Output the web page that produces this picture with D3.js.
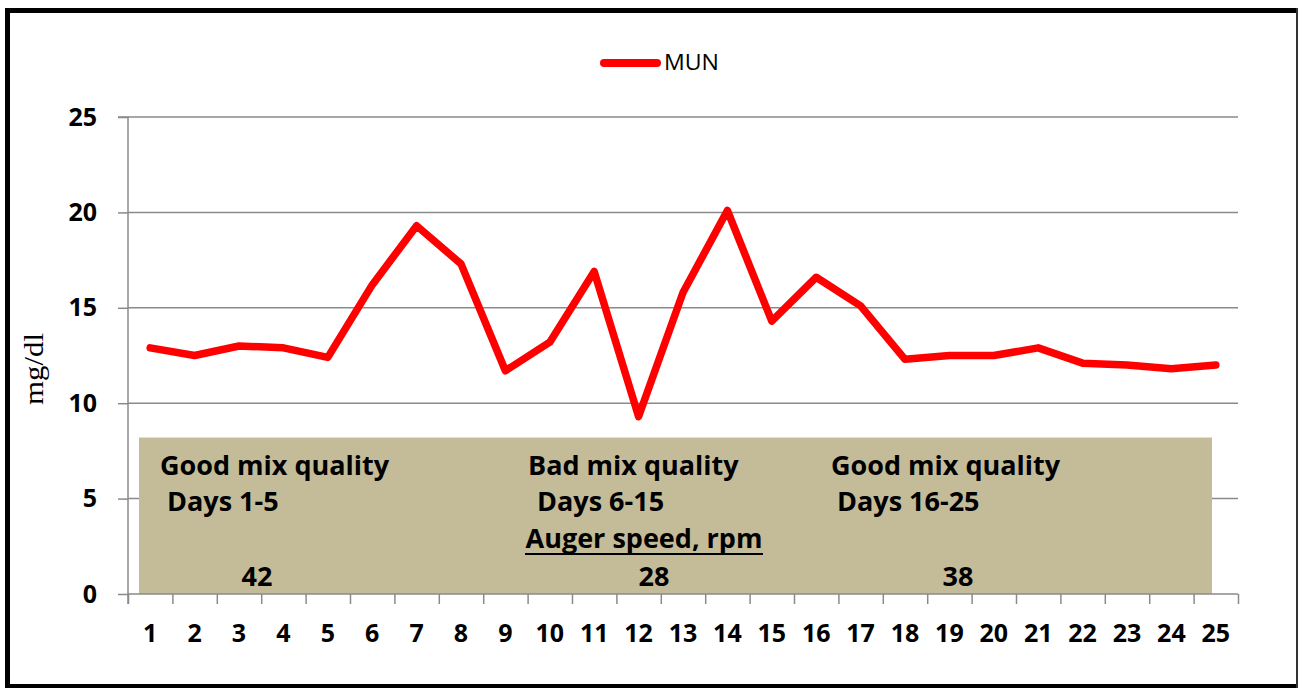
<!DOCTYPE html>
<html>
<head>
<meta charset="utf-8">
<script src="https://cdn.jsdelivr.net/npm/d3@7"></script>
<style>
  html, body { margin: 0; padding: 0; background: #fff; }
  svg { display: block; }
  text { font-family: "Open Sans", "DejaVu Sans", sans-serif; }
</style>
</head>
<body>
<svg id="chart" width="1299" height="688"></svg>
<script>
// Milk urea nitrogen by day
const days = d3.range(1, 26);
const munValues = [12.9, 12.5, 13.0, 12.9, 12.4, 16.2, 19.3, 17.3, 11.7, 13.2,
                   16.9, 9.3, 15.8, 20.1, 14.3, 16.6, 15.1, 12.3, 12.5, 12.5,
                   12.9, 12.1, 12.0, 11.8, 12.0];
const yTicks = [0, 5, 10, 15, 20, 25];
const seriesName = "MUN";
const yLabel = "mg/dl";

// Annotation panel contents
const periodTitles = ["Good mix quality", "Bad mix quality", "Good mix quality"];
const periodDays = ["Days 1-5", "Days 6-15", "Days 16-25"];
const augerTitle = "Auger speed, rpm";
const augerSpeeds = ["42", "28", "38"];

const svg = d3.select("#chart");

const plot = { left: 128, right: 1238, top: 117, bottom: 594 };

const x = d3.scaleBand().domain(days).range([plot.left, plot.right]).padding(0);
const xc = d => x(d) + x.bandwidth() / 2;
const xEdges = d3.scaleLinear().domain([0, days.length]).range([plot.left, plot.right]);
const y = d3.scaleLinear().domain([0, 25]).range([plot.bottom, plot.top]);

const axisColor = "#8a8a8a";

// Gridlines
svg.append("g")
  .selectAll("line")
  .data(yTicks.filter(t => t > 0))
  .join("line")
  .attr("x1", plot.left).attr("x2", plot.right)
  .attr("y1", d => y(d)).attr("y2", d => y(d))
  .attr("stroke", axisColor).attr("stroke-width", 1.5);

// Annotation panel
const panel = svg.append("g");
panel.append("rect")
  .attr("x", 139).attr("y", y(8.2))
  .attr("width", 1212 - 139).attr("height", y(0) - y(8.2))
  .attr("fill", "#c4bc99");

const boldText = (sel) => sel.attr("font-weight", "bold").attr("font-size", 27).attr("fill", "#000");
const titleX = [160, 528, 831];
const daysX = [167, 537, 837];
const speedX = [257, 654, 958];
periodTitles.forEach((t, i) => {
  panel.append("text").call(boldText).attr("x", titleX[i]).attr("y", 475).text(t);
  panel.append("text").call(boldText).attr("x", daysX[i]).attr("y", 511).text(periodDays[i]);
  panel.append("text").call(boldText).attr("x", speedX[i]).attr("y", 586)
    .attr("text-anchor", "middle").text(augerSpeeds[i]);
});
panel.append("text").call(boldText)
  .attr("x", 644).attr("y", 548).attr("text-anchor", "middle").text(augerTitle);
panel.append("line")
  .attr("x1", 525).attr("x2", 763).attr("y1", 554).attr("y2", 554)
  .attr("stroke", "#000").attr("stroke-width", 2);

// Y axis
const yAxis = d3.axisLeft(y).tickValues(yTicks).tickSize(10).tickPadding(21);
const gy = svg.append("g").attr("transform", `translate(${plot.left},0)`).call(yAxis);
gy.select(".domain").attr("stroke", axisColor).attr("stroke-width", 1.5)
  .attr("d", `M-10,${plot.top}H0V${plot.bottom + 10}`);
gy.selectAll(".tick line").attr("stroke", axisColor).attr("stroke-width", 1.5);
gy.selectAll(".tick text")
  .attr("font-family", "'Open Sans', sans-serif")
  .attr("font-size", 25).attr("font-weight", "bold").attr("fill", "#000");

// X axis: marks on category boundaries, labels at category centres
const xMarks = d3.axisBottom(xEdges).tickValues(d3.range(0, days.length + 1)).tickSize(10).tickFormat("");
const gxm = svg.append("g").attr("transform", `translate(0,${plot.bottom})`).call(xMarks);
gxm.select(".domain").attr("stroke", axisColor).attr("stroke-width", 1.5)
  .attr("d", `M${plot.left},0H${plot.right}`);
gxm.selectAll(".tick line").attr("stroke", axisColor).attr("stroke-width", 1.5);

const xLabels = d3.axisBottom(x).tickSize(0).tickPadding(30);
const gxl = svg.append("g").attr("transform", `translate(0,${plot.bottom})`).call(xLabels);
gxl.select(".domain").remove();
gxl.selectAll(".tick text")
  .attr("font-family", "'Open Sans', sans-serif")
  .attr("font-size", 25).attr("font-weight", "bold").attr("fill", "#000");

// Y axis title
svg.append("text")
  .attr("transform", `translate(43,369) rotate(-90)`)
  .attr("text-anchor", "middle")
  .attr("fill", "#000")
  .attr("font-size", 27)
  .attr("textLength", 72).attr("lengthAdjust", "spacingAndGlyphs")
  .style("font-family", "'Liberation Serif', 'Times New Roman', serif")
  .text(yLabel);

// MUN line
const line = d3.line().x((d, i) => xc(days[i])).y(d => y(d));
svg.append("path")
  .datum(munValues)
  .attr("d", line)
  .attr("fill", "none")
  .attr("stroke", "#ff0000")
  .attr("stroke-width", 7.5)
  .attr("stroke-linejoin", "round")
  .attr("stroke-linecap", "round");

// Legend
const legend = svg.append("g");
legend.append("line")
  .attr("x1", 604).attr("x2", 657).attr("y1", 63).attr("y2", 63)
  .attr("stroke", "#ff0000").attr("stroke-width", 8).attr("stroke-linecap", "round");
legend.append("text")
  .attr("x", 664).attr("y", 70)
  .attr("font-size", 21).attr("fill", "#000")
  .attr("textLength", 55).attr("lengthAdjust", "spacingAndGlyphs")
  .text(seriesName);

// Outer frame
svg.append("rect").attr("x", 5).attr("y", 8).attr("width", 5).attr("height", 680).attr("fill", "#000");
svg.append("rect").attr("x", 5).attr("y", 8).attr("width", 1293).attr("height", 5).attr("fill", "#000");
svg.append("rect").attr("x", 5).attr("y", 684).attr("width", 1293).attr("height", 4).attr("fill", "#000");
svg.append("rect").attr("x", 1296).attr("y", 8).attr("width", 2).attr("height", 680).attr("fill", "#333");
</script>
</body>
</html>
